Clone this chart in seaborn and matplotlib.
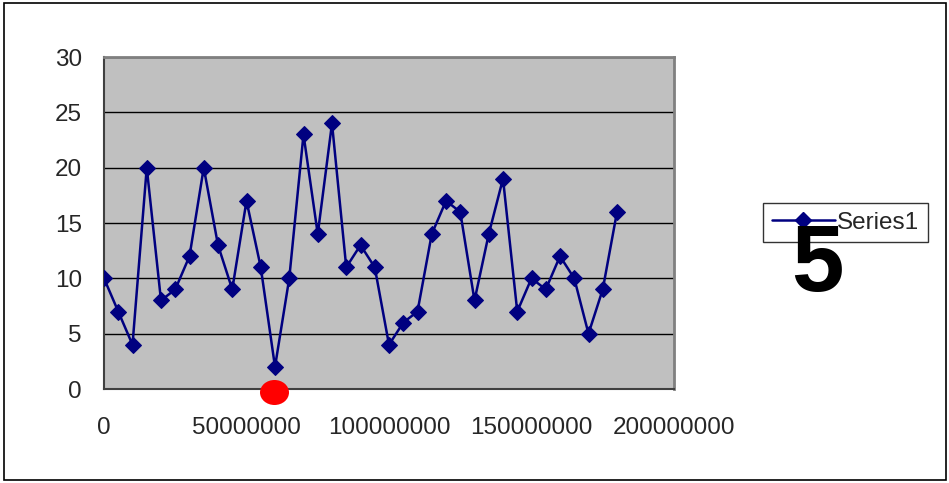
import matplotlib
matplotlib.use("Agg")
import matplotlib.pyplot as plt
from matplotlib.patches import Ellipse, Rectangle
from matplotlib.lines import Line2D
import seaborn as sns
import pandas as pd

# Sample positions and recorded values
x_values = [0, 5e6, 10e6, 15e6, 20e6, 25e6, 30e6, 35e6, 40e6, 45e6, 50e6, 55e6,
            60e6, 65e6, 70e6, 75e6, 80e6, 85e6, 90e6, 95e6, 100e6, 105e6, 110e6,
            115e6, 120e6, 125e6, 130e6, 135e6, 140e6, 145e6, 150e6, 155e6, 160e6,
            165e6, 170e6, 175e6, 180e6]
y_values = [10, 7, 4, 20, 8, 9, 12, 20, 13, 9, 17, 11, 2, 10, 23, 14, 24, 11, 13,
            11, 4, 6, 7, 14, 17, 16, 8, 14, 19, 7, 10, 9, 12, 10, 5, 9, 16]
series_name = "Series1"
x_ticks = [0, 50000000, 100000000, 150000000, 200000000]
y_ticks = [0, 5, 10, 15, 20, 25, 30]
annotation = "5"

df = pd.DataFrame({"x": x_values, "y": y_values, "series": series_name})

sns.set_style("white")
plt.rcParams["font.family"] = ["Liberation Sans", "DejaVu Sans"]

W, H = 949, 483
fig = plt.figure(figsize=(W / 100, H / 100), dpi=100)
ax = fig.add_axes([104 / W, 1 - 389 / H, (674 - 104) / W, (389 - 57) / H])
ax.set_facecolor("#c0c0c0")

sns.lineplot(data=df, x="x", y="y", hue="series", palette=["#000080"],
             marker="D", markersize=8.5, markeredgecolor="#000080",
             linewidth=1.8, ax=ax, legend=False, zorder=3)

ax.set_xlim(0, 200000000)
ax.set_ylim(0, 30)
ax.set_xticks(x_ticks)
ax.set_xticklabels([str(t) for t in x_ticks])
ax.set_yticks(y_ticks)
ax.set_yticklabels([str(t) for t in y_ticks])
ax.set_xlabel("")
ax.set_ylabel("")
ax.yaxis.grid(True, color="black", linewidth=1)
ax.xaxis.grid(False)
ax.set_axisbelow(True)
ax.tick_params(axis="both", direction="out", length=6, width=1, color="black",
               labelsize=17.5)
ax.tick_params(axis="x", pad=14)
ax.tick_params(axis="y", pad=10)
for side in ("left", "bottom"):
    ax.spines[side].set_color("#404040")
    ax.spines[side].set_linewidth(1.5)
for side in ("top", "right"):
    ax.spines[side].set_color("#808080")
    ax.spines[side].set_linewidth(2)

# Legend box
handle = Line2D([], [], color="#000080", marker="D", markersize=8.5, linewidth=1.8)
leg = fig.legend([handle], [series_name], loc="upper left",
                 bbox_to_anchor=(763 / W, 1 - 203 / H), fontsize=17.5,
                 frameon=True, fancybox=False, borderpad=0.35, handlelength=2.6,
                 handletextpad=0.1, borderaxespad=0)
leg.get_frame().set_edgecolor("black")
leg.get_frame().set_linewidth(1)

# Large numeral over the legend
fig.text(817 / W, 1 - 266 / H, annotation, fontsize=68, fontweight="bold",
         ha="center", va="center", color="black", zorder=10)

# Red marker below the minimum point
fig.patches.append(Ellipse((274.5 / W, 1 - 392.5 / H), 29 / W, 25 / H,
                           transform=fig.transFigure, facecolor="red",
                           edgecolor="none", zorder=10))

# Outer chart border
fig.patches.append(Rectangle((4 / W, 1 - 480 / H), (946 - 4) / W, (480 - 3) / H,
                             transform=fig.transFigure, fill=False,
                             edgecolor="black", linewidth=1.2))

fig.savefig("out.png", dpi=100)
